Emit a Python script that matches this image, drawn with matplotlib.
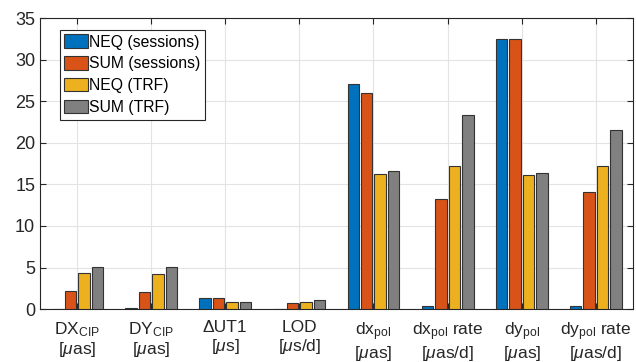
import numpy as np
import matplotlib
matplotlib.use('Agg')
import matplotlib.pyplot as plt

plt.rcParams['font.family'] = ['Liberation Sans', 'DejaVu Sans']
plt.rcParams['mathtext.fontset'] = 'custom'
plt.rcParams['mathtext.rm'] = 'Liberation Sans'
plt.rcParams['mathtext.it'] = 'Liberation Sans:italic'

# подписи групп
labels = [r'DX$_{\mathrm{CIP}}$' + '\n' + r'[$\mu$as]',
          r'DY$_{\mathrm{CIP}}$' + '\n' + r'[$\mu$as]',
          '\u0394UT1\n' + r'[$\mu$s]',
          'LOD\n' + r'[$\mu$s/d]',
          r'dx$_{\mathrm{pol}}$' + '\n' + r'[$\mu$as]',
          r'dx$_{\mathrm{pol}}$ rate' + '\n' + r'[$\mu$as/d]',
          r'dy$_{\mathrm{pol}}$' + '\n' + r'[$\mu$as]',
          r'dy$_{\mathrm{pol}}$ rate' + '\n' + r'[$\mu$as/d]']

series_names = ['NEQ (sessions)', 'SUM (sessions)', 'NEQ (TRF)', 'SUM (TRF)']
neq_sess = [0.05, 0.15, 1.36, 0.0, 27.1, 0.36, 32.5, 0.36]
sum_sess = [2.17, 2.1, 1.32, 0.72, 26.0, 13.2, 32.5, 14.1]
neq_trf = [4.37, 4.2, 0.88, 0.8, 16.3, 17.2, 16.1, 17.25]
sum_trf = [5.09, 5.1, 0.88, 1.12, 16.6, 23.3, 16.4, 21.6]

colors = ['#0072BD', '#D95319', '#EDB120', '#808080']

fig = plt.figure(figsize=(6.36, 3.62), dpi=100)
ax = fig.add_axes([0.063, 0.146, 0.932, 0.804])

x = np.arange(1, len(labels) + 1)
offsets = [-0.273, -0.091, 0.091, 0.273]
data = [neq_sess, sum_sess, neq_trf, sum_trf]
for vals, off, c, name in zip(data, offsets, colors, series_names):
    ax.bar(x + off, vals, width=0.155, color=c, edgecolor='#333333',
           linewidth=0.8, label=name, zorder=3)

ax.set_xlim(0.5, 8.5)
ax.set_ylim(0, 35)
ax.set_xticks(x)
ax.set_xticklabels(labels, fontsize=12.5, linespacing=1.1)
ax.set_yticks(range(0, 36, 5))
ax.tick_params(axis='y', labelsize=13)
ax.tick_params(direction='in', top=True, right=True, length=4,
               color='#262626', labelcolor='#262626')
ax.tick_params(axis='x', pad=8)
ax.grid(True, color='#e3e3e3', linewidth=0.8, zorder=0)
ax.set_axisbelow(True)
for s in ax.spines.values():
    s.set_color('#262626')
    s.set_linewidth(0.8)

leg = ax.legend(loc='upper left', bbox_to_anchor=(0.033, 0.96), fontsize=11.3,
                handlelength=1.5, handleheight=0.95, handletextpad=0.1,
                labelspacing=0.42, borderpad=0.3, borderaxespad=0.0,
                fancybox=False, framealpha=1)
leg.get_frame().set_edgecolor('#262626')
leg.get_frame().set_linewidth(0.8)

fig.savefig('out.png', dpi=100)
